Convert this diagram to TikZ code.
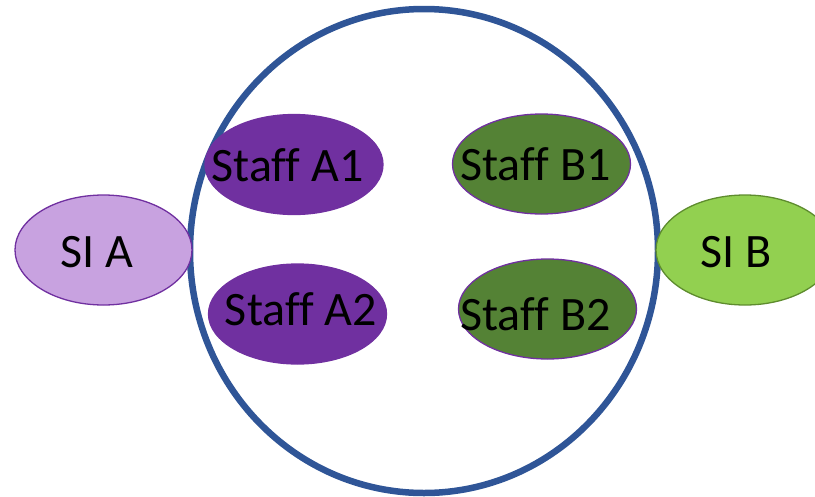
\documentclass[tikz,border=0pt]{standalone}
\usepackage{fontspec}
\setmainfont[Ligatures=NoCommon]{Carlito}
\usetikzlibrary{shapes.geometric}
\definecolor{ringblue}{HTML}{2F5597}
\definecolor{deeppurple}{HTML}{7030A0}
\definecolor{lilac}{HTML}{C8A2E0}
\definecolor{olivegreen}{HTML}{548235}
\definecolor{limegreen}{HTML}{92D050}
\definecolor{limeedge}{HTML}{5E8C2E}
\tikzset{
  blob/.style={ellipse, inner sep=0pt, minimum width=178pt, minimum height=100pt, line width=1.3pt},
  word/.style={anchor=base, inner sep=0pt, font=\fontsize{48pt}{52pt}\selectfont, text=black}
}
\begin{document}
\begin{tikzpicture}[x=1pt,y=-1pt]
\useasboundingbox (0,0) rectangle (815,496);
\begin{scope}
\clip (0,0) rectangle (815,496);
% shared space
\node[ellipse, draw=ringblue, line width=6.5pt, minimum width=468pt, minimum height=484pt, inner sep=0pt] (ring) at (424,251) {};
% side groups
\node[blob, fill=lilac, draw=deeppurple, minimum width=177pt, minimum height=110pt] (sia) at (103.5,250) {};
\node[blob, fill=limegreen, draw=limeedge, minimum width=178pt, minimum height=110pt] (sib) at (745,250) {};
% staff inside the shared space
\node[blob, fill=deeppurple, draw=deeppurple] (a1) at (294,164.5) {};
\node[blob, fill=deeppurple, draw=deeppurple] (a2) at (297.5,314) {};
\node[blob, fill=olivegreen, draw=deeppurple] (b1) at (541.5,164) {};
\node[blob, fill=olivegreen, draw=deeppurple] (b2) at (547.5,309) {};
% labels
\node[word] (tsia) at (97,267) {SI A};
\node[word] (tsib) at (736.5,267) {SI B};
\node[word] (ta1) at (287.5,181) {Staff A1};
\node[word] (ta2) at (301,325) {Staff A2};
\node[word] (tb1) at (535.5,180) {Staff B1};
\node[word] (tb2) at (535.5,330) {Staff B2};
\end{scope}
\end{tikzpicture}
\end{document}
